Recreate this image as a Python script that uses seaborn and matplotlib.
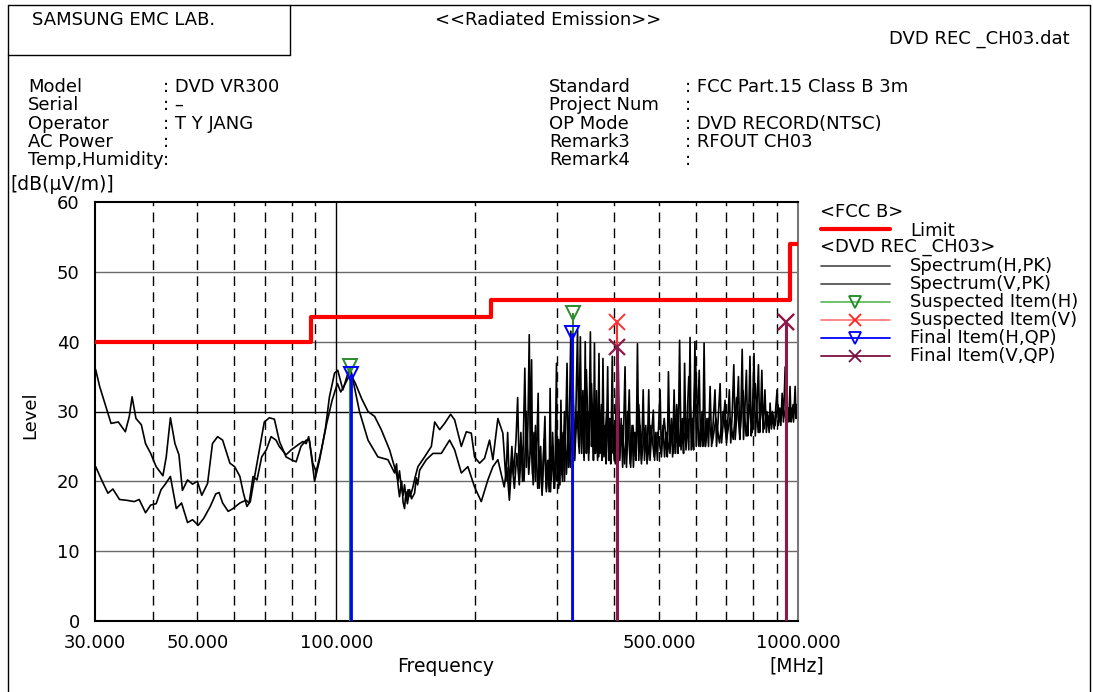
import numpy as np
import pandas as pd
import matplotlib
matplotlib.use("Agg")
import matplotlib.pyplot as plt
import seaborn as sns
from matplotlib.lines import Line2D
from matplotlib.ticker import FixedLocator, NullFormatter

# ---------------- data ----------------
limit_freq = [30, 88, 216, 960, 1000]
limit_level = [40, 43.5, 46, 54, 54]

# spectrum trace A (low band)
a_low_freq = [30.1, 30.7, 31.5, 32.5, 33.7, 34.9, 35.6, 36.1, 36.8, 37.8,
              38.6, 39.6, 40.7, 42.1, 42.8, 43.7, 44.7, 45.6, 46.4, 47.6,
              48.8, 50.0, 51.1, 52.6, 53.9, 55.3, 56.7, 58.8, 60.2, 61.8,
              62.8, 64.0, 65.1, 66.4, 68.1, 69.8, 71.6, 73.4, 75.3, 77.8,
              79.8, 81.8, 83.8, 86.0, 87.4, 89.7, 92.0, 94.7, 96.6, 99.1,
              100.7, 103.3, 106.4, 110.0, 113.5, 117.1, 121.0, 125.1, 130.4, 134.8,
              136.0, 137.0, 138.2, 139.5, 140.5, 141.7, 143.0, 144.5, 146.5, 148.0,
              150.2, 155.3, 160.6, 163.3, 167.4, 171.6, 176.8, 180.4, 186.5, 191.2,
              196.0, 199.2, 204.3, 209.4, 214.7, 218.3, 223.8, 229.4]
a_low_level = [36.0, 33.6, 31.2, 28.3, 28.5, 27.1, 29.3, 32.1, 29.0, 28.1,
               25.4, 24.0, 22.1, 20.8, 23.5, 29.1, 25.4, 23.8, 18.7, 20.2,
               19.6, 20.0, 18.0, 19.7, 25.4, 26.4, 25.9, 22.6, 22.1, 20.7,
               18.5, 16.4, 17.1, 20.4, 24.5, 28.5, 29.1, 28.9, 25.7, 23.5,
               23.1, 22.8, 25.0, 25.9, 25.9, 20.0, 23.1, 27.6, 32.1, 35.5,
               35.9, 33.1, 35.9, 34.0, 31.8, 30.0, 29.3, 27.4, 24.5, 21.2,
               20.0, 21.5, 19.2, 18.0, 19.5, 17.3, 18.8, 17.8, 19.2, 20.5,
               22.1, 23.5, 25.0, 28.5, 27.4, 28.3, 29.6, 28.8, 25.0, 27.1,
               26.9, 23.5, 22.6, 23.3, 25.9, 23.1, 29.0, 26.9]

# spectrum trace A (high band)
a_high_freq = [231, 233, 235, 237, 240, 242, 245, 247, 249, 251,
               253, 256, 258, 260, 261.7, 263, 264.8, 266, 268, 270,
               272, 273.6, 275, 277, 279, 281, 283, 285, 287, 289,
               290.4, 292, 294, 296, 298, 299.8, 301, 303, 305, 306.5,
               308, 310, 312, 314, 316, 318, 320, 322, 324, 326,
               328, 330, 333, 335, 337.7, 340, 342, 344, 346, 348,
               350, 352, 355, 357, 359, 360.5, 362.3, 364, 366, 368,
               370.6, 372, 374, 376, 378, 380, 382, 384, 387, 389,
               391, 393, 396, 398, 400, 402, 404, 406, 408, 411,
               414, 417, 419, 422, 425, 428, 431, 434, 437, 440,
               443, 446, 449, 452, 455, 458, 462, 465, 468, 471,
               475, 478, 482, 486, 489, 492, 496, 499, 502.6, 506,
               510, 514, 518, 521, 524, 528, 532, 535, 539, 543,
               547, 550, 554, 558, 562, 565, 568, 572, 576, 580,
               583.6, 587, 591, 594, 598, 602, 606, 611, 615, 619,
               622, 626, 630, 635, 640, 645, 650, 655, 661, 666,
               671, 678, 683, 689, 695, 700, 705, 710, 715, 720,
               726, 731, 737, 743, 748, 752, 757, 762, 767, 773,
               778, 782, 787, 792, 797, 803, 808, 814, 821, 826,
               830, 835, 840, 844, 848, 854, 860, 866, 870, 876,
               882, 888, 894, 901, 907, 913, 918, 924, 930, 938,
               944, 950, 955, 961, 966, 972, 978, 986, 990, 995,
               1000]
a_high_level = [24, 20, 27, 19, 25, 21, 26, 32, 21, 27,
                20, 36.2, 22, 28, 41.0, 24, 37.4, 21, 27, 20,
                26, 32.6, 19, 25, 18.5, 24, 29.3, 19, 23, 18.5,
                33.3, 20, 25, 19, 24, 36.9, 20, 26, 19.5, 31.6,
                21, 27, 20, 28, 36.9, 22, 30, 41.5, 24, 31,
                23, 29, 41.7, 25, 40.7, 24, 33, 23, 40.0, 24,
                30, 23, 41.4, 25, 31, 23, 39.8, 24, 30, 23,
                38.3, 24, 29, 23, 37.6, 24, 28, 22.5, 36.4, 23,
                29, 22.5, 37.9, 24, 28, 22.5, 30, 23, 36.9, 23,
                29, 22, 27, 36.4, 22, 27, 33.1, 22, 28, 22,
                27, 23, 39.7, 23, 28, 22.5, 33.1, 23, 28, 22.5,
                33.1, 23, 27, 30.2, 23, 27, 23, 28, 33.1, 23.5,
                28, 23.5, 27, 23.5, 35.7, 24, 29, 23.5, 33.1, 24,
                29, 24, 40.2, 24.5, 29, 24, 36.9, 24.5, 29, 24.5,
                40.6, 24.5, 29, 24.5, 40.0, 25, 29, 35.9, 25, 29,
                25, 39.8, 25, 29, 25, 33.6, 25, 28.5, 33.1, 25,
                28.5, 34.0, 25.5, 28.5, 31.6, 25.5, 29, 33.1, 25.5, 29.5,
                36.7, 26, 29.5, 35.0, 26, 29.5, 38.9, 26, 30, 35.9,
                26.5, 29.5, 37.9, 26.5, 30, 38.3, 26.5, 30, 36.7, 27,
                30, 35.9, 27, 30, 33.1, 27, 29.5, 27, 31.2, 27.5,
                29.5, 27.5, 30, 33.1, 28, 30.5, 28, 32.6, 28.5, 36.4,
                28.5, 30.5, 28.5, 33.6, 28.5, 30.5, 28.5, 33.6, 29, 31,
                29]

# spectrum trace B (low band)
b_low_freq = [30.1, 31.0, 32.0, 32.8, 33.9, 35.0, 36.5, 37.4, 38.6, 39.6,
              40.7, 41.7, 42.6, 43.7, 45.0, 46.2, 47.6, 48.8, 50.2, 51.6,
              53.3, 54.8, 55.7, 56.7, 58.3, 59.7, 61.8, 63.7, 64.7, 66.0,
              67.3, 68.9, 70.5, 72.2, 74.0, 75.2, 77.8, 79.8, 82.5, 84.6,
              86.0, 87.1, 88.9, 90.4, 92.8, 95.3, 97.9, 100.5, 102.2, 103.3,
              107.7, 112.2, 117.1, 123.0, 129.3, 133.7, 135.0, 136.0, 137.0, 138.5,
              139.5, 140.5, 141.5, 142.5, 144.1, 145.5, 147.7, 149.0, 150.0, 151.5,
              156.6, 161.9, 168.8, 175.9, 180.4, 186.5, 192.7, 199.2, 206.0, 212.9,
              218.3, 223.8]
b_low_level = [22.1, 20.2, 18.3, 18.9, 17.4, 17.3, 17.1, 17.4, 15.5, 16.6,
               16.8, 18.8, 19.6, 20.7, 16.1, 16.9, 14.1, 14.5, 13.7, 14.7,
               16.4, 18.2, 18.4, 16.9, 15.7, 16.1, 16.9, 17.3, 16.9, 20.7,
               20.2, 23.5, 24.5, 26.4, 25.9, 25.0, 23.8, 24.5, 25.2, 25.7,
               25.4, 26.4, 22.6, 21.4, 24.5, 28.3, 31.6, 34.0, 32.8, 33.3,
               35.7, 30.0, 25.9, 23.5, 23.1, 21.2, 22.5, 19.5, 17.8, 20.0,
               17.0, 16.1, 18.5, 16.8, 18.8, 17.5, 18.3, 20.5, 19.5, 21.6,
               23.1, 24.0, 24.0, 25.9, 24.5, 21.2, 22.1, 19.2, 17.1, 20.2,
               22.1, 23.1]

# spectrum trace B (high band)
b_high_freq = [231, 234, 237, 240, 243, 246, 249, 252, 255, 258,
               261, 264, 267, 270, 273, 276, 279, 282, 285, 288,
               291, 294, 297, 300, 303, 306, 309, 312, 315, 318,
               321, 325, 328, 332, 336, 340, 344, 348, 352, 357,
               361, 366, 370, 375, 380, 385, 390, 395, 400, 405,
               410, 416, 421, 427, 433, 439, 445, 452, 458, 465,
               472, 480, 488, 496, 505, 513, 521, 530, 538, 546,
               555, 563, 572, 580, 590, 600, 610, 620, 630, 640,
               652, 664, 676, 688, 700, 712, 724, 736, 748, 760,
               772, 784, 796, 808, 820, 832, 844, 856, 868, 880,
               892, 904, 916, 928, 940, 952, 964, 976, 988, 1000]
b_high_level = [19.2, 22, 17.3, 23, 19, 24, 19.5, 25, 20, 30,
                21, 26, 19.5, 28, 19, 24, 18, 26, 18.5, 23,
                18.5, 27, 19, 25, 19, 24, 20, 30, 21, 27,
                22, 38, 23, 30, 24, 32, 23.5, 36, 24, 34,
                24, 33, 23.5, 31, 23.5, 30, 23, 29, 23, 34,
                23, 28, 22.5, 30, 22.5, 28, 23, 31, 23, 27,
                23, 28, 23.5, 27, 24, 29, 24, 27, 24, 31,
                25, 28, 25, 35, 25, 37, 25, 30, 25, 29,
                25.5, 29, 25.5, 30, 26, 29, 26, 32, 26.5, 33,
                26.5, 31, 27, 34, 27, 31, 27.5, 30, 28, 30,
                28, 31, 28.5, 30.5, 29, 30.5, 29, 31, 29.5, 30]

susp_h_freq = [107.0, 326.0]
susp_h_level = [36.5, 44.1]
susp_v_freq = [406.0, 942.0]
susp_v_level = [42.8, 42.8]
final_h_freq = [107.8, 324.0]
final_h_level = [35.3, 41.3]
final_v_freq = [406.0, 942.0]
final_v_level = [39.3, 42.8]

x_ticks = [30, 50, 100, 500, 1000]
x_tick_labels = ["30.000", "50.000", "100.000", "500.000", "1000.000"]
x_minor = [40, 50, 60, 70, 80, 90, 200, 300, 400, 500, 600, 700, 800, 900]
y_ticks = [0, 10, 20, 30, 40, 50, 60]

# ---------------- figure ----------------
sns.set_style("white")
plt.rcParams['font.family'] = ['DejaVu Sans']
plt.rcParams['text.color'] = 'black'
plt.rcParams['xtick.color'] = 'black'
plt.rcParams['ytick.color'] = 'black'

W, H = 1093, 692
fig = plt.figure(figsize=(W / 100, H / 100), dpi=100)


def fx(x):
    return x / W


def fy(y):
    return 1 - y / H


ax = fig.add_axes([fx(95), fy(621), fx(798) - fx(95), fy(202) - fy(621)])
ax.set_xscale("log")
ax.set_xlim(30, 1000)
ax.set_ylim(0, 60)

# grid
for y in y_ticks[1:-1]:
    ax.axhline(y, color="black" if y == 30 else "#6a6a6a", lw=1.0, zorder=0)
for xv in x_minor:
    ax.axvline(xv, color="black", lw=1.0, ls=(0, (7, 4.5)), zorder=0)
ax.axvline(100, color="black", lw=1.0, zorder=0)

df_a = pd.DataFrame({"freq": a_low_freq + a_high_freq, "level": a_low_level + a_high_level})
df_b = pd.DataFrame({"freq": b_low_freq + b_high_freq, "level": b_low_level + b_high_level})
sns.lineplot(data=df_b, x="freq", y="level", ax=ax, color="black", lw=1.2,
             sort=False, estimator=None, zorder=2)
sns.lineplot(data=df_a, x="freq", y="level", ax=ax, color="black", lw=1.2,
             sort=False, estimator=None, zorder=2)
sns.lineplot(x=limit_freq, y=limit_level, ax=ax, color="#ff0000", lw=3,
             drawstyle="steps-post", sort=False, estimator=None, zorder=3)

# stems + markers
ax.vlines(susp_h_freq, 0, susp_h_level, color="#2e8b2e", lw=1.5, zorder=4)
ax.vlines(susp_v_freq, 0, susp_v_level, color="#ff3030", lw=1.5, zorder=4)
ax.vlines(final_h_freq, 0, final_h_level, color="#0000ff", lw=2.0, zorder=5)
ax.vlines(final_v_freq, 0, final_v_level, color="#8b1a4b", lw=2.2, zorder=5)
ax.plot(susp_h_freq, susp_h_level, ls="none", marker="v", ms=10, mfc="none",
        mec="#2e8b2e", mew=1.4, zorder=6)
ax.plot(susp_v_freq, susp_v_level, ls="none", marker="x", ms=12,
        mec="#ff3030", mew=1.4, zorder=6)
ax.plot(final_h_freq, final_h_level, ls="none", marker="v", ms=10, mfc="none",
        mec="#0000ff", mew=1.4, zorder=7)
ax.plot(final_v_freq, final_v_level, ls="none", marker="x", ms=12,
        mec="#8b1a4b", mew=1.6, zorder=7)

# axes styling
ax.set_xticks(x_ticks)
ax.set_xticklabels(x_tick_labels)
ax.xaxis.set_minor_locator(FixedLocator(x_minor))
ax.xaxis.set_minor_formatter(NullFormatter())
ax.set_yticks(y_ticks)
ax.yaxis.set_minor_locator(FixedLocator(list(range(0, 61, 2))))
ax.tick_params(axis="both", which="both", direction="in", length=5, width=1,
               labelsize=13, colors="black")
ax.tick_params(axis="x", which="major", pad=9)
ax.tick_params(axis="y", which="major", pad=11)
ax.set_xlabel("")
ax.set_ylabel("")
for s in ["left", "bottom", "top"]:
    ax.spines[s].set_color("black")
    ax.spines[s].set_linewidth(1.5)
ax.spines["right"].set_color("#777777")
ax.spines["right"].set_linewidth(1.5)

# axis titles
fig.text(fx(446), fy(666), "Frequency", ha="center", va="center", fontsize=13.5)
fig.text(fx(797), fy(666), "[MHz]", ha="center", va="center", fontsize=13.5)
fig.text(fx(30), fy(415), "Level", ha="center", va="center", fontsize=13, rotation=90)
fig.text(fx(10), fy(185), "[dB(\u00b5V/m)]", ha="left", va="center", fontsize=13.5)

# header
fs = 13
fig.text(fx(32), fy(20), "SAMSUNG EMC LAB.", ha="left", va="center", fontsize=fs)
fig.text(fx(548), fy(20), "<<Radiated Emission>>", ha="center", va="center", fontsize=fs)
fig.text(fx(1070), fy(39), "DVD REC _CH03.dat", ha="right", va="center", fontsize=fs)

rows_y = [87, 105, 124, 142, 160]
left_labels = ["Model", "Serial", "Operator", "AC Power", "Temp,Humidity"]
left_values = [": DVD VR300", ": \u2013", ": T Y JANG", ":", ":"]
right_labels = ["Standard", "Project Num", "OP Mode", "Remark3", "Remark4"]
right_values = [": FCC Part.15 Class B 3m", ":", ": DVD RECORD(NTSC)", ": RFOUT CH03", ":"]
for yy, l1, v1, l2, v2 in zip(rows_y, left_labels, left_values, right_labels, right_values):
    fig.text(fx(28), fy(yy), l1, ha="left", va="center", fontsize=fs)
    fig.text(fx(163), fy(yy), v1, ha="left", va="center", fontsize=fs)
    fig.text(fx(549), fy(yy), l2, ha="left", va="center", fontsize=fs)
    fig.text(fx(685), fy(yy), v2, ha="left", va="center", fontsize=fs)

# legend (manual)
fig.text(fx(820), fy(212), "<FCC B>", ha="left", va="center", fontsize=fs)
fig.add_artist(Line2D([fx(821), fx(890)], [fy(229), fy(229)], color="#ff0000", lw=3,
                      transform=fig.transFigure))
fig.text(fx(910), fy(231), "Limit", ha="left", va="center", fontsize=fs)
fig.text(fx(820), fy(247), "<DVD REC _CH03>", ha="left", va="center", fontsize=fs)

legend_rows = [
    ("Spectrum(H,PK)", "#555555", None, None),
    ("Spectrum(V,PK)", "#555555", None, None),
    ("Suspected Item(H)", "#66bb66", "v", "#1a8a1a"),
    ("Suspected Item(V)", "#ff8080", "x", "#ff2020"),
    ("Final Item(H,QP)", "#0000ff", "v", "#0000ff"),
    ("Final Item(V,QP)", "#7b1040", "x", "#7b1040"),
]
leg_y = [266, 284, 302, 320, 338, 356]
for yy, (lab, lc, mk, mc) in zip(leg_y, legend_rows):
    fig.add_artist(Line2D([fx(821), fx(890)], [fy(yy), fy(yy)], color=lc, lw=1.3,
                          transform=fig.transFigure))
    if mk is not None:
        fig.add_artist(Line2D([fx(855)], [fy(yy)], ls="none", marker=mk, ms=8,
                              mfc="none", mec=mc, mew=1.3, transform=fig.transFigure))
    fig.text(fx(910), fy(yy), lab, ha="left", va="center", fontsize=fs)

# page frame
frame = dict(color="black", lw=1.0, transform=fig.transFigure)
fig.add_artist(Line2D([fx(8), fx(1090)], [fy(5), fy(5)], **frame))
fig.add_artist(Line2D([fx(8), fx(8)], [fy(5), fy(692)], **frame))
fig.add_artist(Line2D([fx(1090), fx(1090)], [fy(5), fy(692)], **frame))
fig.add_artist(Line2D([fx(8), fx(290)], [fy(55), fy(55)], **frame))
fig.add_artist(Line2D([fx(290), fx(290)], [fy(5), fy(55)], **frame))

fig.savefig("out.png", dpi=100)
